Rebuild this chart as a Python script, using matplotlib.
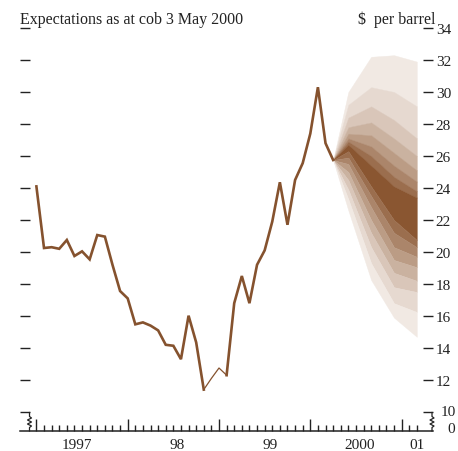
import numpy as np
import matplotlib
matplotlib.use("Agg")
import matplotlib.pyplot as plt

plt.rcParams['font.family'] = ['Liberation Serif', 'DejaVu Serif']

# ---------------- data ----------------
# Monthly oil price, Jan 1997 .. Apr 2000 ($ per barrel)
price = [24.1, 20.25, 20.3, 20.2, 20.75, 19.75, 20.04, 19.54, 21.06, 20.96, 19.2, 17.56,
         17.1, 15.48, 15.6, 15.4, 15.1, 14.2, 14.14, 13.3, 16.02, 14.35, 11.4, 12.1,
         12.75, 12.3, 16.8, 18.5, 16.8, 19.2, 20.1, 21.9, 24.36, 21.7, 24.5, 25.55,
         27.4, 30.3, 26.8, 25.75]
price_start = 1997.0  # Jan 1997

# Fan chart (expectations), times: Apr 00, Jun 00, Sep 00, Dec 00, Mar 01
fan_x = [2000 + 3/12, 2000 + 5/12, 2000 + 8/12, 2000 + 11/12, 2001 + 2/12]
fan_bounds = [
    [25.75, 30.0, 32.2, 32.3, 31.9],
    [25.75, 29.2, 30.3, 30.0, 29.1],
    [25.75, 28.4, 29.1, 28.25, 27.1],
    [25.75, 27.8, 28.1, 27.1, 26.0],
    [25.75, 27.4, 27.3, 26.2, 25.1],
    [25.75, 27.1, 26.6, 25.4, 24.4],
    [25.75, 26.9, 26.0, 24.7, 23.8],
    [25.75, 26.7, 25.4, 24.1, 23.4],
    [25.75, 26.3, 24.1, 22.0, 20.75],
    [25.75, 25.9, 23.5, 21.2, 20.3],
    [25.75, 25.5, 22.8, 20.3, 19.7],
    [25.75, 25.0, 22.0, 19.5, 19.05],
    [25.75, 24.5, 21.2, 18.7, 18.2],
    [25.75, 23.9, 20.3, 17.8, 17.5],
    [25.75, 23.3, 19.3, 16.8, 16.25],
    [25.75, 22.6, 18.25, 15.9, 14.7],
]

yticks = [10, 12, 14, 16, 18, 20, 22, 24, 26, 28, 30, 32, 34]
year_labels = ['1997', '98', '99', '2000', '01']
year_label_pos = [1997.44, 1998.54, 1999.56, 2000.545, 2001.165]

# ---------------- figure ----------------
W, H = 458, 452
fig = plt.figure(figsize=(W / 100, H / 100), dpi=100)
px_left, px_right, px_top, px_bottom = 20, 433, 20, 432
ax = fig.add_axes([px_left / W, 1 - px_bottom / H,
                   (px_right - px_left) / W, (px_bottom - px_top) / H])

ppy = 91.3            # px per year
x0px = 36.4           # px of 1997.0
def xd(px):
    return 1997 + (px - x0px) / ppy
def yd(py):
    return 34 - (py - 29) / 16.0

ax.set_xlim(xd(px_left), xd(px_right))
ax.set_ylim(yd(px_bottom), yd(px_top))

txt_col = '#222222'
line_col = '#85522e'
light = np.array([241, 233, 227]) / 255
dark = np.array([138, 86, 49]) / 255
nlev = 8
level_cols = [light + (dark - light) * (i / (nlev - 1)) ** 1.15 for i in range(nlev)]

nb = len(fan_bounds) - 1
for k in range(nb):
    lev = min(k, nb - 1 - k)
    ax.fill_between(fan_x, fan_bounds[k], fan_bounds[k + 1],
                    color=level_cols[lev], lw=0.3, ec=level_cols[lev], zorder=2)

px_ = price_start + np.arange(len(price)) / 12
pr = np.array(price)
i_thin0, i_thin1 = 22, 25
ax.plot(px_[:i_thin0 + 1], pr[:i_thin0 + 1], color=line_col, lw=1.9,
        solid_joinstyle='miter', zorder=3)
ax.plot(px_[i_thin0:i_thin1 + 1], pr[i_thin0:i_thin1 + 1], color=line_col, lw=0.9, zorder=3)
ax.plot(px_[i_thin1:], pr[i_thin1:], color=line_col, lw=1.9,
        solid_joinstyle='miter', zorder=3)

for s in ['top', 'left', 'right']:
    ax.spines[s].set_visible(False)
ax.spines['bottom'].set_linewidth(1.1)
ax.spines['bottom'].set_color(txt_col)

# y ticks both sides, inward
ax.set_yticks(yticks)
ax.set_yticklabels(['' if v == 10 else str(v) for v in yticks])
ax.tick_params(axis='y', which='both', direction='in', length=7, width=1.0,
               color=txt_col, left=True, right=True, labelleft=False,
               labelright=True, labelsize=11, pad=2, labelcolor=txt_col)
ax.text(xd(441), 10, '10', ha='left', va='center', fontsize=11, color=txt_col, clip_on=False)
ax.text(xd(455.5), yd(429.5), '0', ha='right', va='center', fontsize=11, color=txt_col,
        clip_on=False)

# x ticks: months
months = 1997 + np.arange(0, 51) / 12
majors = [1997, 1998, 1999, 2000, 2001]
minors = [m for m in months if abs(m - round(m)) > 1e-6]
ax.set_xticks(majors)
ax.set_xticks(minors, minor=True)
ax.set_xticklabels([])
ax.tick_params(axis='x', which='major', direction='in', length=9, width=1.0, color=txt_col)
ax.tick_params(axis='x', which='minor', direction='in', length=4.3, width=1.0, color=txt_col)
for lab, pos in zip(year_labels, year_label_pos):
    ax.text(pos, yd(446), lab, ha='center', va='center', fontsize=11, color=txt_col)

# axis break zigzags
def zig(xpx):
    pts_x = [0, 0, 2, -2, 2, -2, 2, 0, 0]
    pts_y = [413.5, 417.5, 419, 421, 423, 425, 427, 428.5, 432]
    ax.plot([xd(xpx + d) for d in pts_x], [yd(p) for p in pts_y], color=txt_col,
            lw=0.9, clip_on=False, zorder=4)
zig(29.5)
zig(432)

fig.text(px_left / W, 1 - 20 / H, 'Expectations as at cob 3 May 2000', ha='left',
         va='center', fontsize=11.5, color=txt_col)
fig.text(435 / W, 1 - 20 / H, '$  per barrel', ha='right', va='center',
         fontsize=11.5, color=txt_col)

fig.savefig('out.png', dpi=100)
